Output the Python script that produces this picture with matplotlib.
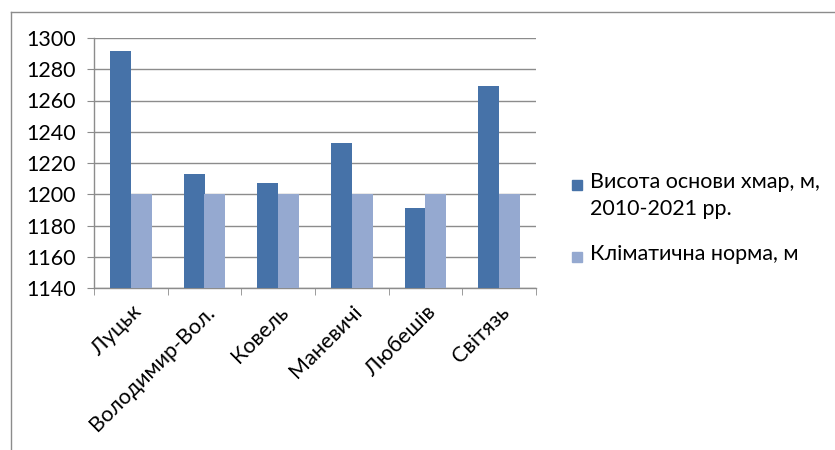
import matplotlib
matplotlib.use("Agg")
import matplotlib.pyplot as plt
from matplotlib.lines import Line2D
from matplotlib.patches import Rectangle
import numpy as np

plt.rcParams['font.family'] = ['Lato', 'DejaVu Sans']

categories = ["Луцьк", "Володимир-Вол.", "Ковель", "Маневичі", "Любешів", "Світязь"]
cloud_base = [1292, 1213, 1207, 1233, 1191, 1269]
climate_norm = [1200, 1200, 1200, 1200, 1200, 1200]
series_labels = ["Висота основи хмар, м,\n2010-2021 рр.", "Кліматична норма, м"]
yticks = [1140, 1160, 1180, 1200, 1220, 1240, 1260, 1280, 1300]

c_dark = "#4672A8"
c_light = "#95A9D0"
gray = "#8C8C8C"
fs = 15.5

fig = plt.figure(figsize=(8.35, 4.5), dpi=100)
ax = fig.add_axes([94/835, 1-288/450, (536-94)/835, (288-38)/450])

x = np.arange(len(categories))
w = 0.285
ax.bar(x - w/2, cloud_base, width=w, color=c_dark, zorder=3)
ax.bar(x + w/2, climate_norm, width=w, color=c_light, zorder=3)

ax.set_ylim(1140, 1300)
ax.set_xlim(-0.5, len(categories) - 0.5)
ax.set_yticks(yticks)
ax.set_yticklabels([str(v) for v in yticks], fontsize=fs)
ax.yaxis.grid(True, color=gray, linewidth=1.0, zorder=0)
ax.tick_params(axis='y', length=5, color=gray, pad=8)

ax.set_xticks(x)
ax.set_xticklabels(categories, rotation=45, ha='right', va='top',
                   rotation_mode='anchor', fontsize=fs)
ax.tick_params(axis='x', which='major', length=0, pad=10)
ax.set_xticks(np.arange(-0.5, len(categories) + 0.5, 1), minor=True)
ax.tick_params(axis='x', which='minor', length=5, color=gray)

for s in ['top', 'right']:
    ax.spines[s].set_visible(False)
for s in ['left', 'bottom']:
    ax.spines[s].set_color(gray)
    ax.spines[s].set_linewidth(1.0)

# outer border (top and left only visible)
fig.add_artist(Line2D([11/835, 1], [1-12/450, 1-12/450], color=gray, linewidth=1.0, transform=fig.transFigure))
fig.add_artist(Line2D([11/835, 11/835], [0, 1-12/450], color=gray, linewidth=1.0, transform=fig.transFigure))

# legend
colors = [c_dark, c_light]
ys = [185, 257]
for lab, col, yy in zip(series_labels, colors, ys):
    fig.add_artist(Rectangle((572/835, 1-(yy+5)/450), 10/835, 10/450,
                             transform=fig.transFigure, color=col))
    fig.text(590/835, 1-(yy-13)/450, lab, fontsize=fs, va='top', ha='left',
             linespacing=1.45)

fig.savefig("out.png", dpi=100)
